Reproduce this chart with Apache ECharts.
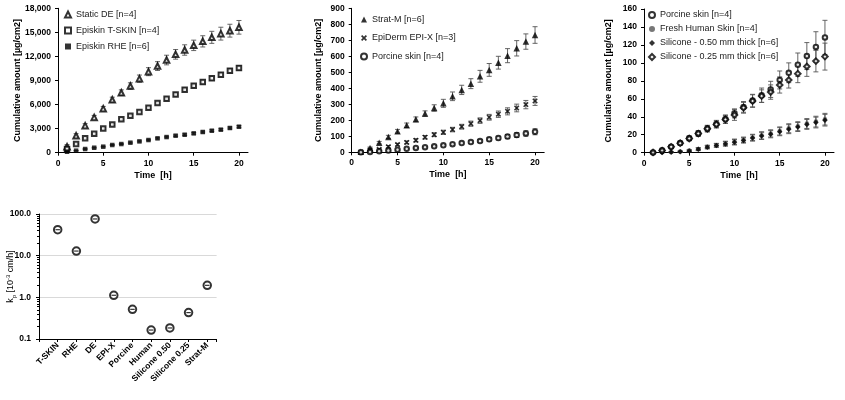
<!DOCTYPE html>
<html>
<head>
<meta charset="utf-8">
<script src="https://cdn.jsdelivr.net/npm/echarts@6/dist/echarts.min.js"></script>
<style>
  html, body { margin: 0; padding: 0; background: #fff; }
  #main { width: 845px; height: 400px; }
</style>
</head>
<body>
<div id="main"></div>
<script>
// time points [h]
var timeH = [1, 2, 3, 4, 5, 6, 7, 8, 9, 10, 11, 12, 13, 14, 15, 16, 17, 18, 19, 20];

// panel 1 (µg/cm2)
var staticDE = [750, 2120, 3370, 4400, 5490, 6600, 7480, 8310, 9230, 10100, 10800, 11550, 12260, 12800, 13380, 13880, 14380, 14840, 15210, 15630];
var staticDEErr = [250, 250, 250, 250, 280, 320, 350, 400, 450, 500, 550, 600, 600, 650, 650, 700, 750, 800, 800, 850];
var tSkin = [450, 1080, 1790, 2370, 3030, 3530, 4160, 4610, 5070, 5610, 6190, 6730, 7270, 7860, 8350, 8810, 9270, 9730, 10220, 10560];
var tSkinErr = [60, 80, 100, 110, 120, 130, 140, 150, 160, 170, 180, 190, 200, 210, 220, 230, 240, 250, 260, 270];
var rhe = [120, 250, 460, 620, 750, 960, 1080, 1250, 1410, 1580, 1790, 1950, 2120, 2240, 2410, 2580, 2740, 2870, 3080, 3240];
var rheErr = [20, 30, 40, 50, 50, 60, 60, 70, 70, 80, 80, 90, 90, 100, 100, 110, 110, 120, 120, 130];

// panel 2
var stratM = [4, 27, 60, 96, 131, 169, 206, 242, 277, 306, 350, 390, 429, 475, 515, 560, 604, 650, 692, 733];
var stratMErr = [3, 6, 8, 10, 12, 14, 15, 17, 20, 25, 27, 29, 31, 37, 40, 40, 44, 48, 48, 52];
var epiX = [2, 15, 19, 35, 48, 62, 75, 94, 110, 125, 142, 160, 179, 198, 219, 238, 256, 277, 298, 321];
var epiXErr = [2, 4, 5, 7, 8, 9, 10, 11, 12, 13, 14, 15, 16, 17, 18, 20, 22, 24, 26, 28];
var porcine = [0.3, 2.6, 6.7, 10.8, 16, 21.5, 27, 32, 37.5, 43.8, 51, 58, 64, 70.5, 81, 89, 98, 107.6, 117.7, 128.4];
var porcineErr = [0.5, 1, 1.5, 2, 2.5, 3, 3.5, 4, 4.5, 5, 6, 7, 8, 9, 10, 11, 13, 15, 17, 19];

// panel 3
var human = [0.1, 0.4, 0.8, 1.2, 2.4, 4.2, 6.5, 8.4, 10.3, 12.2, 14.4, 17, 19.3, 21.5, 24.2, 27.2, 29.5, 32.5, 34.6, 37.3];
var humanErr = [0.3, 0.5, 0.6, 0.8, 1, 1.5, 1.8, 2, 2.5, 3, 3, 3.5, 4, 4, 4.5, 5, 5, 5.5, 6, 6.5];
var sil050 = [0, 0.3, 0.6, 1, 2, 3.8, 6, 8, 9.8, 11.6, 13.7, 16.4, 18.7, 20.6, 23.4, 26.2, 28.6, 31.5, 33.6, 36.2];
var sil050Err = [0.3, 0.5, 0.6, 0.8, 1, 1.5, 1.8, 2, 2.5, 3, 3, 3.5, 4, 4, 4.5, 5, 5, 5.5, 6, 6.5];
var sil025 = [0.3, 2.4, 6.5, 10.6, 15.8, 21.3, 26.6, 31.5, 37, 42, 50, 57.5, 63, 67.5, 75.4, 81, 88, 96, 102, 107];
var sil025Err = [0.5, 1, 1.5, 2, 2.5, 3, 3.5, 4, 4.5, 6, 6, 7, 7, 8, 9, 9, 10, 11, 12, 15];

// panel 4, kp [10^-3 cm/h]
var kpLabels = ['T-SKIN', 'RHE', 'DE', 'EPI-X', 'Porcine', 'Human', 'Silicone 0.50', 'Silicone 0.25', 'Strat-M'];
var kpValues = [42, 12.9, 76, 1.12, 0.515, 0.164, 0.184, 0.43, 1.94];

var FONT = 'Liberation Sans, Arial, sans-serif';
var xSymbol = 'path://M0,2 L2,0 L5,3 L8,0 L10,2 L7,5 L10,8 L8,10 L5,7 L2,10 L0,8 L3,5 Z';

var chart = echarts.init(document.getElementById('main'));

function pts(vals) {
    return timeH.map(function (t, i) { return [t, vals[i]]; });
}

function errBars(idx, vals, errs) {
    return {
        type: 'custom',
        xAxisIndex: idx,
        yAxisIndex: idx,
        silent: true,
        z: 1,
        data: timeH.map(function (t, i) { return [t, vals[i], errs[i]]; }),
        renderItem: function (params, api) {
            var x = api.value(0), y = api.value(1), e = api.value(2);
            var top = api.coord([x, y + e]);
            var bot = api.coord([x, Math.max(y - e, 0)]);
            var st = { stroke: '#555', lineWidth: 0.9 };
            return {
                type: 'group',
                children: [
                    { type: 'line', shape: { x1: top[0], y1: top[1], x2: bot[0], y2: bot[1] }, style: st },
                    { type: 'line', shape: { x1: top[0] - 2.5, y1: top[1], x2: top[0] + 2.5, y2: top[1] }, style: st },
                    { type: 'line', shape: { x1: bot[0] - 2.5, y1: bot[1], x2: bot[0] + 2.5, y2: bot[1] }, style: st }
                ]
            };
        }
    };
}

function dot(idx, name, vals, symbol, color, size) {
    return {
        name: name,
        type: 'scatter',
        xAxisIndex: idx,
        yAxisIndex: idx,
        symbol: symbol,
        symbolSize: size || 5,
        z: 3,
        itemStyle: { color: color || '#000', borderWidth: 1 },
        data: pts(vals)
    };
}

function timeAxis(idx) {
    return {
        type: 'value', gridIndex: idx, min: 0, max: 21, interval: 5,
        name: 'Time  [h]', nameLocation: 'middle', nameGap: 18,
        nameTextStyle: { fontFamily: FONT, fontWeight: 'bold', fontSize: 9, color: '#000' },
        axisLine: { lineStyle: { color: '#000', width: 1 } },
        axisTick: { show: true, length: 3, lineStyle: { color: '#000' } },
        axisLabel: { showMaxLabel: false, margin: 6, fontFamily: FONT, fontWeight: 'bold', fontSize: 8.5, color: '#000' },
        splitLine: { show: false }
    };
}

function amountAxis(idx, max, interval, gap, fmt) {
    return {
        type: 'value', gridIndex: idx, min: 0, max: max, interval: interval,
        name: 'Cumulative amount [µg/cm2]', nameLocation: 'middle', nameGap: gap,
        nameMoveOverlap: false,
        nameTextStyle: { fontFamily: FONT, fontWeight: 'bold', fontSize: 9, color: '#000' },
        axisLine: { show: true, lineStyle: { color: '#000', width: 1 } },
        axisTick: { show: true, length: 3, lineStyle: { color: '#000' } },
        axisLabel: { margin: 7, fontFamily: FONT, fontWeight: 'bold', fontSize: 8.5, color: '#000', formatter: fmt },
        splitLine: { show: false }
    };
}

function legendAt(left, top, gap, names) {
    return {
        orient: 'vertical', left: left, top: top, itemGap: gap,
        itemWidth: 6, itemHeight: 6, padding: 0, selectedMode: false,
        textStyle: { fontFamily: FONT, fontSize: 9, color: '#222' },
        data: names
    };
}

var option = {
    backgroundColor: '#fff',
    animation: false,
    grid: [
        { left: 58, top: 8.3, width: 190, height: 144.4 },
        { left: 351.7, top: 8.3, width: 192.5, height: 144 },
        { left: 644, top: 9, width: 190, height: 143.7 },
        { left: 39, top: 214, width: 177.6, height: 125 }
    ],
    legend: [
        legendAt(64, 10, 7, ['Static DE [n=4]', 'Episkin T-SKIN [n=4]', 'Episkin RHE [n=6]']),
        legendAt(360, 15, 9.5, ['Strat-M [n=6]', 'EpiDerm EPI-X [n=3]', 'Porcine skin [n=4]']),
        legendAt(648, 10.5, 5, ['Porcine skin [n=4] ', 'Fresh Human Skin [n=4]', 'Silicone - 0.50 mm thick [n=6]', 'Silicone - 0.25 mm thick [n=6]'])
    ],
    xAxis: [
        timeAxis(0), timeAxis(1), timeAxis(2),
        {
            type: 'value', gridIndex: 3, min: 0, max: 9.5, interval: 1,
            axisLine: { lineStyle: { color: '#000', width: 1 } },
            axisTick: { show: true, length: 3, lineStyle: { color: '#000' } },
            axisLabel: {
                rotate: 45, margin: 5, fontFamily: FONT, fontWeight: 'bold', fontSize: 8.5, color: '#000',
                formatter: function (v) { return (v >= 1 && v % 1 === 0) ? kpLabels[v - 1] : ''; }
            },
            splitLine: { show: false }
        }
    ],
    yAxis: [
        amountAxis(0, 18000, 3000, 36, function (v) { return v.toLocaleString('en-US'); }),
        amountAxis(1, 900, 100, 29, null),
        amountAxis(2, 160, 20, 31, null),
        {
            type: 'log', gridIndex: 3, logBase: 10, min: 0.1, max: 100,
            name: '{a|k}{b|p}{a| [10}{c|-3}{a| cm/h]}', nameLocation: 'middle', nameGap: 22,
            nameMoveOverlap: false,
            nameTextStyle: {
                fontFamily: FONT, fontSize: 9, color: '#000',
                rich: {
                    a: { fontFamily: FONT, fontSize: 9, lineHeight: 12, color: '#000' },
                    b: { fontFamily: FONT, fontSize: 6, lineHeight: 6, verticalAlign: 'bottom', color: '#000' },
                    c: { fontFamily: FONT, fontSize: 6, lineHeight: 6, verticalAlign: 'top', color: '#000' }
                }
            },
            axisLine: { show: true, lineStyle: { color: '#000', width: 1 } },
            axisTick: { show: true, length: 3, lineStyle: { color: '#000' } },
            minorTick: { show: true, splitNumber: 9, length: 2, lineStyle: { color: '#000' } },
            axisLabel: { margin: 8, fontFamily: FONT, fontWeight: 'bold', fontSize: 8.5, color: '#000',
                formatter: function (v) { return v.toFixed(1); } },
            splitLine: { show: true, lineStyle: { color: '#d9d9d9', width: 1 } }
        }
    ],
    series: [
        errBars(0, staticDE, staticDEErr),
        errBars(0, tSkin, tSkinErr),
        errBars(0, rhe, rheErr),
        dot(0, 'Static DE [n=4]', staticDE, 'emptyTriangle', '#000', 5.5),
        dot(0, 'Episkin T-SKIN [n=4]', tSkin, 'emptyRect', '#000', 4.5),
        dot(0, 'Episkin RHE [n=6]', rhe, 'rect', '#000', 4.5),

        errBars(1, stratM, stratMErr),
        errBars(1, epiX, epiXErr),
        errBars(1, porcine, porcineErr),
        dot(1, 'Strat-M [n=6]', stratM, 'triangle', '#000', 6.5),
        dot(1, 'EpiDerm EPI-X [n=3]', epiX, xSymbol, '#000', 5.5),
        dot(1, 'Porcine skin [n=4]', porcine, 'emptyCircle', '#000', 4.5),

        errBars(2, porcine, porcineErr),
        errBars(2, human, humanErr),
        errBars(2, sil050, sil050Err),
        errBars(2, sil025, sil025Err),
        dot(2, 'Porcine skin [n=4] ', porcine, 'emptyCircle', '#000', 4.5),
        dot(2, 'Fresh Human Skin [n=4]', human, 'circle', '#555', 4.5),
        dot(2, 'Silicone - 0.50 mm thick [n=6]', sil050, 'diamond', '#000', 5.5),
        dot(2, 'Silicone - 0.25 mm thick [n=6]', sil025, 'emptyDiamond', '#000', 5.5),

        {
            name: 'kp', type: 'scatter', xAxisIndex: 3, yAxisIndex: 3,
            symbol: 'emptyCircle', symbolSize: 7.5, z: 3,
            itemStyle: { color: '#000', borderWidth: 1.6 },
            data: kpValues.map(function (v, i) { return [i + 1, v]; })
        },
        {
            name: 'kp bar', type: 'scatter', xAxisIndex: 3, yAxisIndex: 3,
            symbol: 'rect', symbolSize: [4.5, 1.2], z: 4, silent: true,
            itemStyle: { color: '#000' },
            data: kpValues.map(function (v, i) { return [i + 1, v]; })
        }
    ]
};

chart.setOption(option);
</script>
</body>
</html>
